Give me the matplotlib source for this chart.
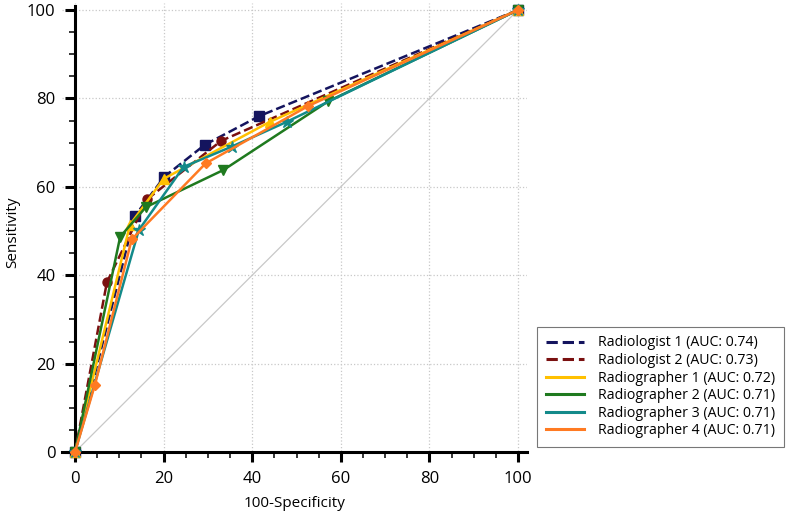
import matplotlib
matplotlib.use("Agg")
import matplotlib.pyplot as plt
from matplotlib.lines import Line2D
from matplotlib.ticker import MultipleLocator

plt.rcParams['font.family'] = ['Open Sans', 'DejaVu Sans']

labels = ["Radiologist 1 (AUC: 0.74)", "Radiologist 2 (AUC: 0.73)",
          "Radiographer 1 (AUC: 0.72)", "Radiographer 2 (AUC: 0.71)",
          "Radiographer 3 (AUC: 0.71)", "Radiographer 4 (AUC: 0.71)"]
colors = ["#14145e", "#7a1010", "#ffc000", "#1f7a1f", "#138a8a", "#ff7a22"]
linestyles = ["--", "--", "-", "-", "-", "-"]
markers = ["s", "o", "^", "v", "*", "D"]

rad1_x = [0, 13.5, 20.2, 29.3, 41.6, 100]
rad1_y = [0, 53.4, 62.3, 69.5, 76.0, 100]
rad2_x = [0, 7.2, 16.3, 33.0, 100]
rad2_y = [0, 38.4, 57.2, 70.4, 100]
rg1_x = [0, 12.4, 20.0, 44.0, 100]
rg1_y = [0, 51.4, 61.8, 74.7, 100]
rg2_x = [0, 10.2, 16.0, 33.5, 57.1, 100]
rg2_y = [0, 48.7, 55.4, 63.8, 79.3, 100]
rg3_x = [0, 14.4, 24.5, 35.4, 47.8, 100]
rg3_y = [0, 50.2, 64.5, 69.1, 74.7, 100]
rg4_x = [0, 4.5, 12.8, 29.5, 52.7, 100]
rg4_y = [0, 15.2, 48.1, 65.3, 78.3, 100]

xs = [rad1_x, rad2_x, rg1_x, rg2_x, rg3_x, rg4_x]
ys = [rad1_y, rad2_y, rg1_y, rg2_y, rg3_y, rg4_y]

fig = plt.figure(figsize=(7.9, 5.23), dpi=100)
W, H = 790, 523
xmin, xmax = -3, 102
ymin, ymax = -2, 101.5
sx = (518 - 75) / 100.0
sy = (452 - 10) / 100.0
left = 75 + xmin * sx
right = 75 + xmax * sx
bottom = 452 - ymin * sy
top = 452 - ymax * sy
ax = fig.add_axes([left / W, 1 - bottom / H, (right - left) / W, (bottom - top) / H])
ax.set_xlim(xmin, xmax)
ax.set_ylim(ymin, ymax)

ax.plot([0, 100], [0, 100], color="#c8c8c8", lw=0.9, zorder=1)

for x, y, c, ls, m in zip(xs, ys, colors, linestyles, markers):
    ms = 9 if m == "*" else (5.5 if m == "D" else 6.5)
    ax.plot(x, y, color=c, ls=ls, lw=1.8, marker=m, ms=ms, mfc=c, mec=c,
            clip_on=False, zorder=3)

for s in ["top", "right"]:
    ax.spines[s].set_visible(False)
ax.spines["left"].set_position(("data", 0))
ax.spines["bottom"].set_position(("data", 0))
ax.spines["left"].set_bounds(0, 101)
ax.spines["bottom"].set_bounds(-3, 102)
for s in ["left", "bottom"]:
    ax.spines[s].set_linewidth(2.2)

ax.set_xticks([0, 20, 40, 60, 80, 100])
ax.set_yticks([0, 20, 40, 60, 80, 100])
ax.xaxis.set_minor_locator(MultipleLocator(5))
ax.yaxis.set_minor_locator(MultipleLocator(5))
ax.tick_params(which="major", direction="out", length=7, width=2.2, labelsize=12, pad=7)
ax.tick_params(which="minor", direction="out", length=4.5, width=1.1)
ax.grid(True, which="major", color="#c8c8c8", ls=":", lw=0.9, zorder=0)

ax.set_xlabel("100-Specificity", fontsize=11, labelpad=6)
ax.set_ylabel("Sensitivity", fontsize=11, labelpad=5)

handles = [Line2D([0], [0], color=c, ls=ls, lw=2.2) for c, ls in zip(colors, linestyles)]
leg = fig.legend(handles, labels, loc="upper left",
                 bbox_to_anchor=(537 / W, 1 - 327 / H), fontsize=10.2,
                 frameon=True, fancybox=False, edgecolor="#555555",
                 handlelength=2.7, labelspacing=0.18, borderpad=0.6,
                 handletextpad=1.0, borderaxespad=0)
leg.get_frame().set_linewidth(0.8)

fig.savefig("out.png", dpi=100)
